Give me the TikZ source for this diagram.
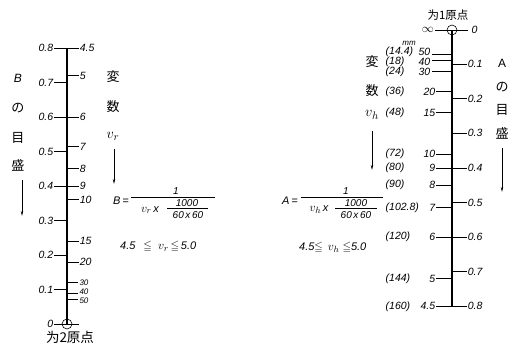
\documentclass[tikz,border=0pt]{standalone}
\usepackage{amsmath,amssymb}
\usepackage{fontspec}
\setmainfont{Liberation Sans}
\newfontfamily\jp{Noto Sans CJK JP}
\usetikzlibrary{arrows.meta}
\begin{document}
\begin{tikzpicture}[x=1pt,y=-1pt,
  num/.style={font=\fontsize{10.5}{11}\selectfont\itshape, inner sep=0.5pt},
  smallnum/.style={font=\fontsize{8}{8}\selectfont\itshape, inner sep=0.3pt},
  kanji/.style={font=\jp\fontsize{13}{13}\selectfont, inner sep=0pt},
  ftxt/.style={font=\fontsize{11}{11}\selectfont\itshape, inner sep=0pt},
  fsm/.style={font=\fontsize{10}{10}\selectfont\itshape, inner sep=0pt},
  vvar/.style={font=\fontsize{15}{15}\selectfont, inner sep=0pt},
  axisline/.style={line width=2pt},
  tick/.style={line width=0.6pt},
  bar/.style={line width=0.5pt},
  arr/.style={line width=0.6pt, -{Stealth[length=5pt,width=2.4pt]}}]
\useasboundingbox[fill=white] (0,0) rectangle (515,345);

% ---------------- left scale (B) ----------------
\coordinate (Ltop) at (67,48);
\coordinate (Lbot) at (67,324);
\draw[axisline] (Ltop) -- (Lbot);
\foreach \b/\lab [count=\i] in {0.8/0.8,0.7/0.7,0.6/0.6,0.5/0.5,0.4/0.4,0.3/0.3,0.2/0.2,0.1/0.1} {
  \coordinate (LB\i) at (67,{324-345*\b});
  \draw[tick] (LB\i) -- ++(-13,0) node[num,anchor=east] (LBl\i) {\lab};
}
\foreach \v [count=\i] in {4.5,5,6,7,8,9,10,15,20} {
  \coordinate (LV\i) at (67,{324-1242/\v});
  \draw[tick] (LV\i) -- ++(12,0) node[num,anchor=west] (LVl\i) {\v};
}
\foreach \v/\ly [count=\i] in {30/282.5,40/291.5,50/300.5} {
  \coordinate (LW\i) at (67,{324-1242/\v});
  \draw[tick] (LW\i) -- ++(11,0);
  \node[smallnum,anchor=west] (LWl\i) at (79,\ly) {\v};
}
\node[draw, circle, minimum size=10pt, inner sep=0pt, line width=0.6pt] (O2) at (Lbot) {};
\coordinate (O2l) at (54,324);
\coordinate (O2r) at (79,324);
\draw[tick] (O2l) -- (O2r);
\node[num,anchor=east] (O2z) at (O2l) {0};
\node[kanji,font=\jp\fontsize{13.5}{14}\selectfont] (O2t) at (70,337) {为{\itshape 2}原点};

% left side texts
\node[font=\fontsize{12}{12}\selectfont\itshape, inner sep=0pt] (Bt) at (18,78) {B};
\node[kanji] (Bno) at (18,108) {の};
\node[kanji] (Bme) at (18,138) {目};
\node[kanji] (Bmo) at (18,165) {盛};
\coordinate (BaS) at (22,180);
\coordinate (BaE) at (22,216);
\draw[arr] (BaS) -- (BaE);

\node[kanji] (Lhen) at (113,77) {変};
\node[kanji] (Lsu) at (113,107) {数};
\node[vvar] (Lvr) at (113,136) {$v_r$};
\coordinate (LaS) at (114,149);
\coordinate (LaE) at (114,184);
\draw[arr] (LaS) -- (LaE);

% formula B
\node[ftxt] (BfL) at (121,201) {B\,=};
\coordinate (BbarL) at (131,197.5);
\coordinate (BbarR) at (215,197.5);
\draw[bar] (BbarL) -- (BbarR);
\node[fsm] (BfN) at (176,191) {1};
\node[ftxt] (BfV) at (150,210) {{\fontsize{13}{13}\selectfont$v_r$}\,x};
\node[fsm] (BfI) at (187,203.5) {1000};
\coordinate (BibL) at (167,208.3);
\coordinate (BibR) at (208,208.3);
\draw[bar] (BibL) -- (BibR);
\node[fsm] (BfD) at (188,215.5) {60\,x\,60};
\node[ftxt, anchor=west] (Bi) at (120,247) {4.5\;\;\,$\leqq$\;\;{\fontsize{13}{13}\selectfont$v_r$}\,$\leqq$\,5.0};

% ---------------- right scale (A) ----------------
\coordinate (Rtop) at (452,30);
\coordinate (Rbot) at (452,306.3);
\draw[axisline] (Rtop) -- (Rbot);
\foreach \a/\lab [count=\i] in {0.1/0.1,0.2/0.2,0.3/0.3,0.4/0.4,0.5/0.5,0.6/0.6,0.7/0.7,0.8/0.8} {
  \coordinate (RA\i) at (452,{29.5+346*\a});
  \draw[tick] (RA\i) -- ++(15,0) node[num,anchor=west] (RAl\i) {\lab};
}
% crowded top ticks with shifted labels
\foreach \v/\mm/\ly [count=\i] in {50/14.4/52,40/18/62,30/24/72} {
  \coordinate (RT\i) at (452,{29.5+1245.6/\v});
  \coordinate (RTe\i) at (432,{29.5+1245.6/\v});
  \draw[tick] (RT\i) -- (RTe\i);
  \node[num,anchor=east] (RTl\i) at (431,\ly) {\v};
  \node[num,anchor=west] (RTm\i) at (385,\ly) {(\mm)};
}
\foreach \v/\mm [count=\i] in {20/36,15/48,10/72,9/80,8/90,7/102.8,6/120,5/144,4.5/160} {
  \coordinate (RV\i) at (452,{29.5+1245.6/\v});
  \draw[tick] (RV\i) -- ++(-16,0) node[num,anchor=east] (RVl\i) {\v};
  \node[num,anchor=west] (RVm\i) at (385,{29.5+1245.6/\v}) {(\mm)};
}
\node[font=\fontsize{8}{8}\selectfont\itshape, inner sep=0pt] (mm) at (409,43) {mm};
\node[draw, circle, minimum size=10pt, inner sep=0pt, line width=0.6pt] (O1) at (Rtop) {};
\coordinate (O1l) at (435,30);
\coordinate (O1r) at (468,30);
\draw[tick] (O1l) -- (O1r);
\node[anchor=east, inner sep=1pt, font=\fontsize{12}{12}\selectfont] (O1inf) at (O1l) {$\infty$};
\node[num,anchor=west] (O1z) at (471,30) {0};
\node[kanji,font=\jp\fontsize{11.5}{12}\selectfont] (O1t) at (448,15) {为{\itshape 1}原点};

% right side texts
\node[font=\fontsize{12}{12}\selectfont, inner sep=0pt] (At) at (502,63) {A};
\node[kanji] (Ano) at (502,87) {の};
\node[kanji] (Ame) at (502,110) {目};
\node[kanji] (Amo) at (502,133) {盛};
\coordinate (AaS) at (502,148);
\coordinate (AaE) at (502,192);
\draw[arr] (AaS) -- (AaE);

\node[kanji] (Rhen) at (372,62) {変};
\node[kanji] (Rsu) at (372,91) {数};
\node[vvar] (Rvh) at (372,115) {$v_h$};
\coordinate (RaS) at (372,131);
\coordinate (RaE) at (372,170);
\draw[arr] (RaS) -- (RaE);

% formula A
\node[ftxt] (AfL) at (290,201) {A\,=};
\coordinate (AbarL) at (301,197.5);
\coordinate (AbarR) at (383,197.5);
\draw[bar] (AbarL) -- (AbarR);
\node[fsm] (AfN) at (346,191) {1};
\node[ftxt] (AfV) at (319,210) {{\fontsize{13}{13}\selectfont$v_h$}\,x};
\node[fsm] (AfI) at (356,203.5) {1000};
\coordinate (AibL) at (335,208.3);
\coordinate (AibR) at (377,208.3);
\draw[bar] (AibL) -- (AibR);
\node[fsm] (AfD) at (356,215.5) {60\,x\,60};
\node[ftxt, anchor=west] (Ai) at (299,248) {4.5$\leqq$\;\,{\fontsize{13}{13}\selectfont$v_h$}\;$\leqq$5.0};
\end{tikzpicture}
\end{document}
